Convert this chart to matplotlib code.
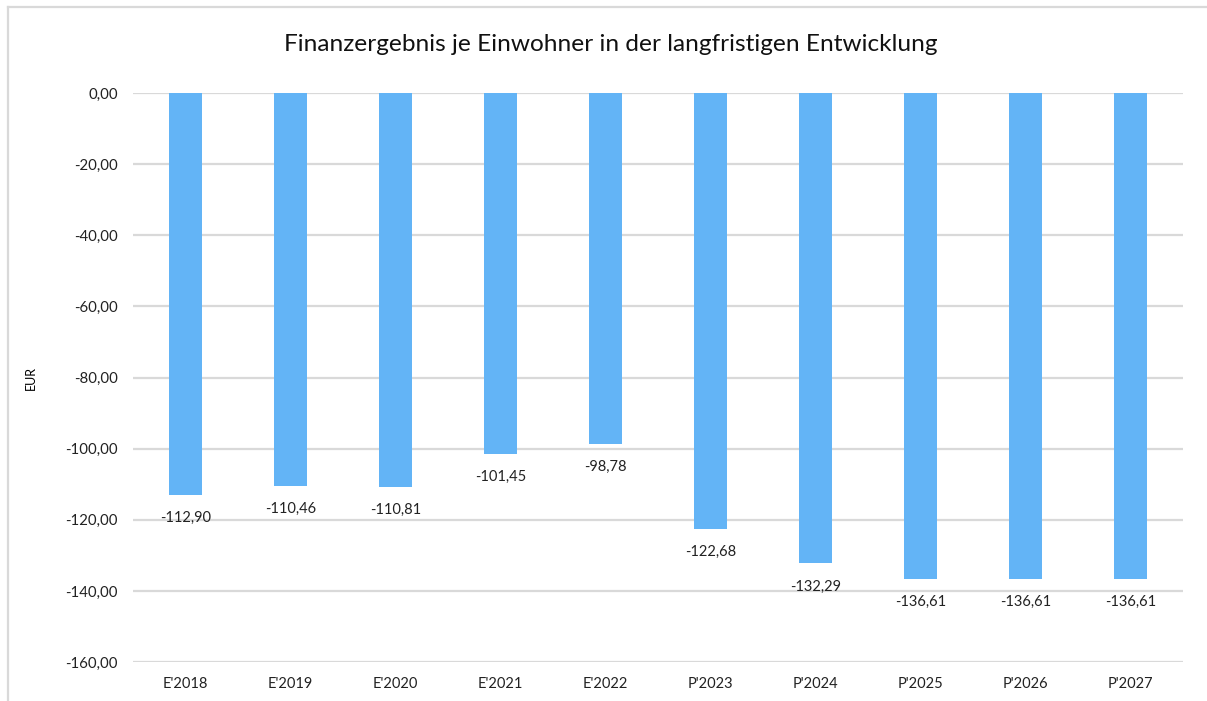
import matplotlib
matplotlib.use("Agg")
import matplotlib.pyplot as plt
from matplotlib.lines import Line2D

plt.rcParams["font.family"] = ["Lato", "DejaVu Sans"]

jahre = ["E'2018", "E'2019", "E'2020", "E'2021", "E'2022",
         "P'2023", "P'2024", "P'2025", "P'2026", "P'2027"]
werte = [-112.90, -110.46, -110.81, -101.45, -98.78,
         -122.68, -132.29, -136.61, -136.61, -136.61]
y_ticks = [0, -20, -40, -60, -80, -100, -120, -140, -160]

BLAU = "#63b4f6"
GRID = "#d9d9d9"


def de(v):
    return f"{v:.2f}".replace(".", ",")


fig = plt.figure(figsize=(12.07, 7.01), dpi=100)
ax = fig.add_axes([0.1102, 0.0556, 0.8700, 0.8117])

x = range(len(jahre))
ax.bar(x, werte, width=0.31, color=BLAU, zorder=2)
for xi, v in zip(x, werte):
    ax.annotate(de(v), (xi, v), xytext=(0, -11.5), textcoords="offset points",
                ha="center", va="top", fontsize=10.5, color="#222222")

ax.set_ylim(-160, 0)
ax.set_xlim(-0.5, len(jahre) - 0.5)
ax.set_yticks(y_ticks)
ax.set_yticklabels([de(t) for t in y_ticks], fontsize=10.8, color="#222222")
ax.set_xticks(list(x))
ax.set_xticklabels(jahre, fontsize=10.5, color="#222222")
ax.tick_params(length=0, axis="y", pad=10.8)
ax.tick_params(length=0, axis="x", pad=11)
ax.grid(axis="y", color=GRID, linewidth=1.6, zorder=0)
for s in ax.spines.values():
    s.set_visible(False)
ax.set_ylabel("EUR", fontsize=9)
ax.yaxis.set_label_coords(-0.092, 0.5)

fig.text(0.5062, 0.936, "Finanzergebnis je Einwohner in der langfristigen Entwicklung",
         ha="center", va="center", fontsize=17.6, color="#111111")

# Rahmen des Diagrammbereichs
fig.add_artist(Line2D([8 / 1207, 8 / 1207], [0, 1 - 7 / 701], color=GRID, lw=1.6,
                      transform=fig.transFigure))
fig.add_artist(Line2D([8 / 1207, 1], [1 - 7 / 701, 1 - 7 / 701], color=GRID, lw=1.6,
                      transform=fig.transFigure))

fig.savefig("out.png", dpi=100)
